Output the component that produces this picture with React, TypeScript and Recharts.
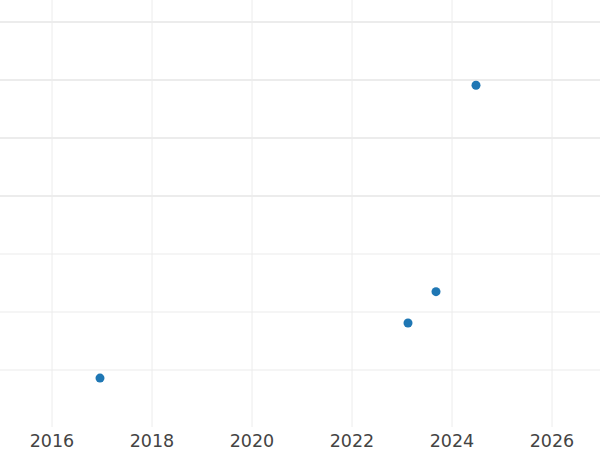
import { ScatterChart, Scatter, XAxis, YAxis, ReferenceLine } from 'recharts'

const years = [2016.96, 2023.12, 2023.68, 2024.48]
const values = [0.86, 1.81, 2.35, 5.91]
const xTicks = [2016, 2018, 2020, 2022, 2024, 2026]
const yTicks = [1, 2, 3, 4, 5, 6, 7]

const points = years.map((x, i) => ({ x, y: values[i] }))

export default function App() {
  return (
    <div style={{ position: 'absolute', left: 0, top: 0, width: 600, height: 450, background: '#fff' }}>
      <ScatterChart width={600} height={450} margin={{ top: 0, right: 0, bottom: 0, left: 0 }}>
        {xTicks.map((t) => (
          <ReferenceLine key={'x' + t} x={t} stroke="#ececec" strokeWidth={1} />
        ))}
        {yTicks.map((t) => (
          <ReferenceLine
            key={'y' + t}
            y={t}
            stroke={t >= 4 ? '#ececec' : '#ebebeb'}
            strokeWidth={t >= 4 ? 1.8 : 1}
          />
        ))}
        <XAxis
          type="number"
          dataKey="x"
          domain={[2014.96, 2026.96]}
          ticks={xTicks}
          allowDataOverflow
          axisLine={false}
          tickLine={false}
          height={23}
          tick={{ fontSize: 17.5, fill: '#444', fontFamily: 'DejaVu Sans' }}
          tickMargin={2}
        />
        <YAxis
          type="number"
          dataKey="y"
          domain={[0.017, 7.379]}
          ticks={yTicks}
          allowDataOverflow
          hide
        />
        <Scatter
          data={points}
          fill="#1f77b4"
          isAnimationActive={false}
          shape={(p: any) => <circle cx={p.cx} cy={p.cy} r={4.5} fill="#1f77b4" />}
        />
      </ScatterChart>
    </div>
  )
}
